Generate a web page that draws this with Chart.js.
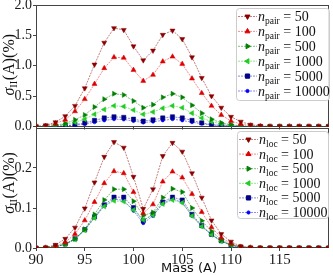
<!DOCTYPE html>
<html>
<head>
<meta charset="utf-8">
<script src="https://cdn.jsdelivr.net/npm/chart.js@4.4.1/dist/chart.umd.min.js"></script>
<style>
  html, body { margin: 0; padding: 0; background: #fff; }
  #wrap { position: relative; width: 333px; height: 275px; overflow: hidden; }
  #topChart { position: absolute; left: 0; top: 0; }
  #botChart { position: absolute; left: 0; top: 123px; }
</style>
</head>
<body>
<div id="wrap">
  <canvas id="topChart" width="333" height="131" style="width:333px;height:131px"></canvas>
  <canvas id="botChart" width="333" height="152" style="width:333px;height:152px"></canvas>
</div>
<script>
// mass numbers on the x axis
const massValues = [90, 91, 92, 93, 94, 95, 96, 97, 98, 99, 100, 101, 102, 103, 104, 105,
  106, 107, 108, 109, 110, 111, 112, 113, 114, 115, 116, 117, 118, 119, 120];

const sampleSizes = [50, 100, 500, 1000, 5000, 10000];

// upper panel: sigma_II(A) in % for n_pair
const pair50    = [0, 0.02, 0.07, 0.17, 0.34, 0.63, 1.02, 1.38, 1.62, 1.59, 1.32, 1.09, 1.25, 1.51, 1.58, 1.44, 1.14, 0.80, 0.50, 0.31, 0.16, 0.08, 0.03, 0.01, 0, 0, 0, 0, 0, 0, 0];
const pair100   = [0, 0.01, 0.05, 0.11, 0.25, 0.45, 0.70, 0.96, 1.14, 1.13, 0.93, 0.75, 0.85, 1.07, 1.15, 1.03, 0.79, 0.55, 0.34, 0.19, 0.09, 0.04, 0.015, 0.005, 0, 0, 0, 0, 0, 0, 0];
const pair500   = [0, 0, 0.02, 0.05, 0.11, 0.19, 0.32, 0.45, 0.54, 0.52, 0.42, 0.31, 0.36, 0.48, 0.54, 0.48, 0.35, 0.22, 0.12, 0.06, 0.03, 0.01, 0, 0, 0, 0, 0, 0, 0, 0, 0];
const pair1000  = [0, 0, 0.01, 0.03, 0.07, 0.12, 0.20, 0.28, 0.34, 0.33, 0.27, 0.20, 0.24, 0.30, 0.34, 0.31, 0.22, 0.14, 0.08, 0.04, 0.02, 0.01, 0, 0, 0, 0, 0, 0, 0, 0, 0];
const pair5000  = [0, 0, 0, 0.01, 0.03, 0.06, 0.10, 0.14, 0.16, 0.15, 0.12, 0.09, 0.11, 0.14, 0.16, 0.14, 0.10, 0.06, 0.03, 0.02, 0.01, 0, 0, 0, 0, 0, 0, 0, 0, 0, 0];
const pair10000 = [0, 0, 0, 0.01, 0.02, 0.04, 0.07, 0.10, 0.12, 0.115, 0.09, 0.065, 0.08, 0.10, 0.12, 0.10, 0.07, 0.045, 0.025, 0.012, 0.005, 0, 0, 0, 0, 0, 0, 0, 0, 0, 0];

// lower panel: sigma_II(A) in % for n_loc
const loc50    = [0, 0.001, 0.008, 0.023, 0.051, 0.099, 0.164, 0.228, 0.265, 0.251, 0.178, 0.098, 0.147, 0.230, 0.263, 0.241, 0.187, 0.126, 0.069, 0.035, 0.016, 0.004, 0.001, 0, 0, 0, 0, 0, 0, 0, 0];
const loc100   = [0, 0.001, 0.005, 0.014, 0.035, 0.069, 0.115, 0.162, 0.192, 0.187, 0.140, 0.087, 0.109, 0.166, 0.191, 0.176, 0.135, 0.090, 0.052, 0.026, 0.011, 0.003, 0.001, 0, 0, 0, 0, 0, 0, 0, 0];
const loc500   = [0, 0, 0.003, 0.010, 0.023, 0.047, 0.084, 0.120, 0.147, 0.147, 0.117, 0.081, 0.089, 0.126, 0.148, 0.140, 0.100, 0.068, 0.042, 0.020, 0.008, 0.003, 0.001, 0, 0, 0, 0, 0, 0, 0, 0];
const loc1000  = [0, 0, 0.003, 0.009, 0.021, 0.044, 0.075, 0.104, 0.118, 0.116, 0.095, 0.070, 0.082, 0.110, 0.120, 0.113, 0.080, 0.054, 0.033, 0.017, 0.007, 0.002, 0, 0, 0, 0, 0, 0, 0, 0, 0];
const loc5000  = [0, 0, 0.003, 0.010, 0.023, 0.046, 0.078, 0.108, 0.127, 0.127, 0.101, 0.068, 0.085, 0.115, 0.127, 0.120, 0.084, 0.056, 0.034, 0.018, 0.007, 0.002, 0, 0, 0, 0, 0, 0, 0, 0, 0];
const loc10000 = [0, 0, 0.003, 0.009, 0.022, 0.045, 0.076, 0.105, 0.122, 0.119, 0.093, 0.062, 0.080, 0.111, 0.123, 0.114, 0.080, 0.054, 0.033, 0.017, 0.007, 0.002, 0, 0, 0, 0, 0, 0, 0, 0, 0];

const topTicks = [0, 0.5, 1.0, 1.5, 2.0];
const botTicks = [0, 0.1, 0.2];
const massTicks = [90, 95, 100, 105, 110, 115];

// marker / colour per sample size
const styles = [
  { mark: '#8b0000', line: 'rgba(139,0,0,0.5)',   point: 'triangle', rot: 180, r: 2.9 },
  { mark: '#dd0000', line: 'rgba(230,0,0,0.45)',  point: 'triangle', rot: 0,   r: 2.9 },
  { mark: '#008000', line: 'rgba(0,128,0,0.5)',   point: 'triangle', rot: 90,  r: 2.9 },
  { mark: '#22cc22', line: 'rgba(0,210,0,0.45)',  point: 'triangle', rot: 270, r: 2.9 },
  { mark: '#00008b', line: 'rgba(0,0,139,0.45)',  point: 'rect',     rot: 0,   r: 3.0 },
  { mark: '#0000ff', line: 'rgba(0,0,255,0.45)',  point: 'circle',   rot: 0,   r: 1.6 }
];

const SERIF = "'Liberation Serif', 'DejaVu Serif', serif";
const AXIS = '#444';

function buildDatasets(seriesList, sub) {
  return seriesList.map((vals, i) => ({
    label: 'n_' + sub + ' = ' + sampleSizes[i],
    sub: sub,
    n: sampleSizes[i],
    data: massValues.map((m, k) => ({ x: m, y: vals[k] })),
    borderColor: styles[i].line,
    borderWidth: 1,
    borderDash: [2, 1],
    pointStyle: styles[i].point,
    pointRotation: styles[i].rot,
    pointRadius: styles[i].r,
    pointBackgroundColor: styles[i].mark,
    pointBorderColor: styles[i].mark,
    pointBorderWidth: 0.5,
    tension: 0
  }));
}

// spines drawn round the plot area
const framePlugin = {
  id: 'frame',
  beforeDatasetsDraw(chart) {
    const { ctx, chartArea: a } = chart;
    ctx.save();
    ctx.strokeStyle = AXIS;
    ctx.lineWidth = 1;
    ctx.strokeRect(Math.round(a.left) + 0.5, Math.round(a.top) + 0.5,
      Math.round(a.right - a.left) - 1, Math.round(a.bottom - a.top) - 1);
    ctx.restore();
  }
};

// rotated "sigma_II(A)(%)" label
function yLabelPlugin(shift) {
  return {
    id: 'ylab',
    afterDraw(chart) {
      const { ctx, chartArea: a } = chart;
      const cy = (a.top + a.bottom) / 2 + shift;
      ctx.save();
      ctx.translate(13.5, cy);
      ctx.rotate(-Math.PI / 2);
      ctx.fillStyle = '#111';
      ctx.textBaseline = 'alphabetic';
      const f1 = 'italic 16px ' + SERIF, f2 = '10.5px ' + SERIF, f3 = '16px ' + SERIF;
      ctx.font = f1; const w1 = ctx.measureText('σ').width;
      ctx.font = f2; const w2 = ctx.measureText('II').width + 0.5;
      ctx.font = f3; const w3 = ctx.measureText('(A)(%)').width;
      let x = -(w1 + w2 + w3) / 2;
      ctx.font = f1; ctx.fillText('σ', x, 0); x += w1;
      ctx.font = f2; ctx.fillText('II', x, 3); x += w2;
      ctx.font = f3; ctx.fillText('(A)(%)', x, 0);
      ctx.restore();
    }
  };
}

// matplotlib-like legend box with subscripted labels
function legendPlugin(box, firstRow, rowH) {
  return {
    id: 'mplLegend',
    afterDraw(chart) {
      const ctx = chart.ctx;
      ctx.save();
      ctx.beginPath();
      if (ctx.roundRect) ctx.roundRect(box.x + 0.5, box.y + 0.5, box.w, box.h, 3);
      else ctx.rect(box.x + 0.5, box.y + 0.5, box.w, box.h);
      ctx.fillStyle = 'rgba(255,255,255,0.85)';
      ctx.fill();
      ctx.strokeStyle = '#cccccc';
      ctx.lineWidth = 1;
      ctx.stroke();
      chart.data.datasets.forEach((ds, i) => {
        const cy = firstRow + i * rowH;
        const x0 = box.x + 2, x1 = box.x + 21;
        ctx.strokeStyle = ds.borderColor;
        ctx.setLineDash(ds.borderDash);
        ctx.lineWidth = 1;
        ctx.beginPath();
        ctx.moveTo(x0, cy + 0.5);
        ctx.lineTo(x1, cy + 0.5);
        ctx.stroke();
        ctx.setLineDash([]);
        ctx.fillStyle = ds.pointBackgroundColor;
        ctx.strokeStyle = ds.pointBorderColor;
        Chart.helpers.drawPoint(ctx, {
          pointStyle: ds.pointStyle, rotation: ds.pointRotation,
          radius: ds.pointRadius, borderWidth: 0.5
        }, (x0 + x1) / 2, cy + 0.5);
        let tx = x1 + 1;
        const base = cy + 5;
        ctx.fillStyle = '#111';
        ctx.textBaseline = 'alphabetic';
        ctx.font = 'italic 14px ' + SERIF;
        ctx.fillText('n', tx, base); tx += ctx.measureText('n').width;
        ctx.font = '9.5px ' + SERIF;
        ctx.fillText(ds.sub, tx, base + 3); tx += ctx.measureText(ds.sub).width;
        ctx.font = '14px ' + SERIF;
        ctx.fillText(' = ' + ds.n, tx, base);
      });
      ctx.restore();
    }
  };
}

const xTitlePlugin = {
  id: 'xtitle',
  afterDraw(chart) {
    const ctx = chart.ctx;
    ctx.save();
    ctx.fillStyle = '#111';
    ctx.font = "13px 'DejaVu Sans', sans-serif";
    ctx.textAlign = 'center';
    ctx.textBaseline = 'alphabetic';
    ctx.fillText('Mass (A)', 189, 149);
    ctx.restore();
  }
};

function makePanel(canvasId, datasets, yMax, yTicks, showMass, xAxisH, plugins) {
  return new Chart(document.getElementById(canvasId), {
    type: 'line',
    data: { datasets: datasets },
    options: {
      responsive: false,
      animation: false,
      devicePixelRatio: 1,
      layout: { padding: { top: 5, right: 1, left: 0, bottom: 0 } },
      plugins: { legend: { display: false }, tooltip: { enabled: false } },
      scales: {
        x: {
          type: 'linear',
          min: 90,
          max: 120,
          afterBuildTicks: (s) => { s.ticks = massTicks.map(v => ({ value: v })); },
          afterFit: (s) => { s.height = xAxisH; s.paddingLeft = 0; s.paddingRight = 0; },
          border: { display: false },
          grid: { drawOnChartArea: false, drawTicks: true, tickLength: 3, color: AXIS },
          ticks: {
            display: showMass,
            padding: 0,
            color: '#1a1a1a',
            font: { family: SERIF, size: 15 },
            maxRotation: 0,
            callback: (v) => String(v)
          }
        },
        y: {
          min: 0,
          max: yMax,
          afterBuildTicks: (s) => { s.ticks = yTicks.map(v => ({ value: v })); },
          afterFit: (s) => { s.width = 36; s.paddingTop = 0; s.paddingBottom = 0; },
          border: { display: false },
          grid: { drawOnChartArea: false, drawTicks: true, tickLength: 3, color: AXIS },
          ticks: {
            padding: 1,
            color: '#1a1a1a',
            font: { family: SERIF, size: 14 },
            callback: (v) => v.toFixed(1)
          }
        }
      }
    },
    plugins: plugins
  });
}

makePanel('topChart', buildDatasets([pair50, pair100, pair500, pair1000, pair5000, pair10000], 'pair'),
  2.0, topTicks, false, 4,
  [framePlugin, yLabelPlugin(-1), legendPlugin({ x: 236, y: 8, w: 93, h: 92 }, 16, 14.9)]);

makePanel('botChart', buildDatasets([loc50, loc100, loc500, loc1000, loc5000, loc10000], 'loc'),
  0.3, botTicks, true, 27,
  [framePlugin, yLabelPlugin(-5), legendPlugin({ x: 237, y: 8, w: 91, h: 87 }, 16, 14.6), xTitlePlugin]);
</script>
</body>
</html>
